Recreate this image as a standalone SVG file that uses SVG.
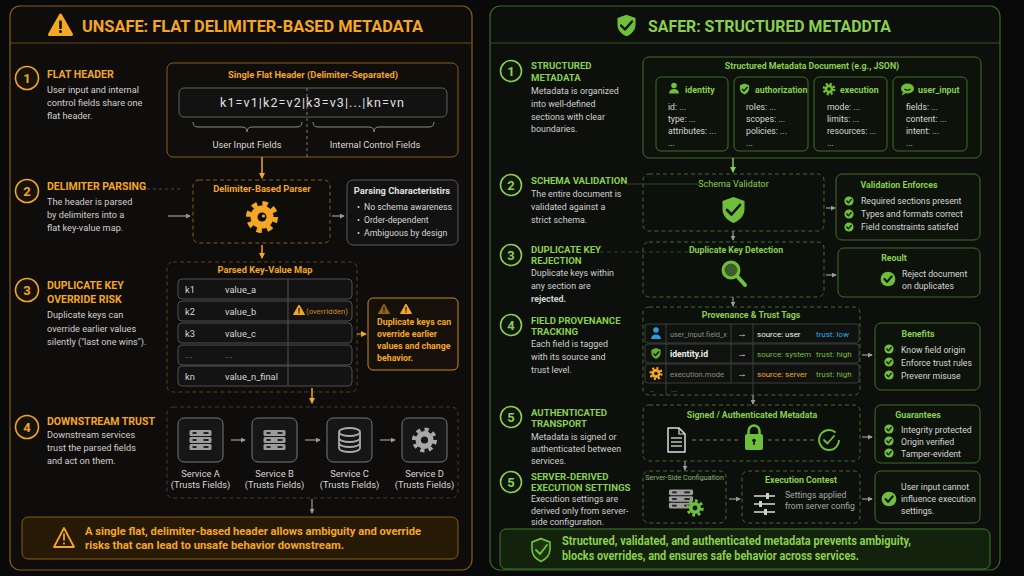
<svg xmlns="http://www.w3.org/2000/svg" width="1024" height="576" viewBox="0 0 1024 576">
<defs>
<style>
text{font-family:Roboto,"Liberation Sans",sans-serif}
.or{fill:#f5a623}
.gr{fill:#8acf4e}
.b{font-weight:700}
.st{font-size:10.5px;font-weight:700}
.str{font-size:9.6px;font-weight:700}
.ds{font-size:9.2px;fill:#cfcfcf}
.dsr{font-size:8.9px;fill:#cfcfcf}
.lbl{font-size:9.3px;fill:#d6d6d6}
.lbr{font-size:8.7px;fill:#d6d6d6}
.sm{font-size:9.3px;font-weight:700}
.smr{font-size:8.8px;font-weight:700}
.bx-or{fill:#100e0a;stroke:#8a5d16;stroke-width:1}
.dash-or{fill:#0f0d0a;stroke:#8a5d16;stroke-width:1;stroke-dasharray:4 3}
.bx-gy{fill:#121212;stroke:#5a5a5a;stroke-width:1}
.bx-gr{fill:#0d120b;stroke:#3f6f29;stroke-width:1}
.dash-gr{fill:#0c100a;stroke:#3f6f29;stroke-width:1;stroke-dasharray:4 3}
.nor{fill:#17120a;stroke:#f5a623;stroke-width:1.6}
.ngr{fill:#0f160c;stroke:#8acf4e;stroke-width:1.6}
.num{font-size:13px;font-weight:700;text-anchor:middle}
.ar-or{stroke:#f5a623;stroke-width:1.5;fill:none;marker-end:url(#mo)}
.ar-gy{stroke:#9a9a9a;stroke-width:1.2;fill:none;marker-end:url(#mg)}
.ar-gr{stroke:#8acf4e;stroke-width:1.5;fill:none;marker-end:url(#mgr)}
.mid{text-anchor:middle}
.row{fill:#131313;stroke:#505050;stroke-width:1}
.prow{fill:#0f120e;stroke:#3a3f38;stroke-width:1}
</style>
<marker id="mo" viewBox="0 0 6 6" refX="5" refY="3" markerWidth="6" markerHeight="6" orient="auto" markerUnits="userSpaceOnUse"><path d="M0,0 L6,3 L0,6 z" fill="#f5a623"/></marker>
<marker id="mg" viewBox="0 0 6 6" refX="5" refY="3" markerWidth="5" markerHeight="5" orient="auto" markerUnits="userSpaceOnUse"><path d="M0,0 L6,3 L0,6 z" fill="#9a9a9a"/></marker>
<marker id="mgr" viewBox="0 0 6 6" refX="5" refY="3" markerWidth="6" markerHeight="6" orient="auto" markerUnits="userSpaceOnUse"><path d="M0,0 L6,3 L0,6 z" fill="#8acf4e"/></marker>
<path id="shield" d="M0,-13 L11,-9 L11,-1 C11,6 6,10.5 0,13 C-6,10.5 -11,6 -11,-1 L-11,-9 Z"/>
<g id="chk"><circle r="4.6" fill="#6fbf3a"/><path d="M-2.2,0 L-0.6,1.8 L2.3,-1.6" fill="none" stroke="#0c100a" stroke-width="1.3" stroke-linecap="round" stroke-linejoin="round"/></g>
<g id="srv">
<rect x="-11" y="-10" width="22" height="6" rx="1.5" fill="#9c9c9c"/>
<rect x="-11" y="-3" width="22" height="6" rx="1.5" fill="#9c9c9c"/>
<rect x="-11" y="4" width="22" height="6" rx="1.5" fill="#9c9c9c"/>
<g fill="#222"><rect x="-8" y="-8" width="4" height="2"/><rect x="-8" y="-1" width="4" height="2"/><rect x="-8" y="6" width="4" height="2"/><rect x="3" y="-8" width="5" height="2"/><rect x="3" y="-1" width="5" height="2"/><rect x="3" y="6" width="5" height="2"/></g>
</g>
<g id="warn"><path d="M0,-5 L5.5,4.5 L-5.5,4.5 Z" fill="#f5a623" stroke="#f5a623" stroke-width="1" stroke-linejoin="round"/><rect x="-0.6" y="-2" width="1.2" height="3.8" fill="#111"/><circle cy="3" r="0.7" fill="#111"/></g>
</defs>

<rect width="1024" height="576" fill="#090909"/>

<!-- LEFT PANEL -->
<g id="left-panel">
<rect x="10" y="6" width="462" height="564" rx="10" fill="#0e0d0b" stroke="#8a5d16" stroke-width="1.2"/>
<line x1="10" y1="43" x2="472" y2="43" stroke="#6e4a12" stroke-width="1"/>
<path d="M60.5,15 L71.5,34.5 L49.5,34.5 Z" fill="#f5a623" stroke="#f5a623" stroke-width="3" stroke-linejoin="round"/>
<rect x="59.2" y="20.5" width="2.6" height="8.5" rx="1" fill="#0e0d0b"/>
<circle cx="60.5" cy="31.5" r="1.5" fill="#0e0d0b"/>
<text x="82" y="32" class="or b" font-size="16.5" textLength="341" lengthAdjust="spacingAndGlyphs">UNSAFE: FLAT DELIMITER-BASED METADATA</text>
</g>

<g id="step1-left">
<circle cx="27" cy="78" r="11.5" class="nor"/>
<text x="27" y="82.5" class="num or">1</text>
<text x="47" y="78" class="st or">FLAT HEADER</text>
<text x="47" y="93" class="ds">User input and internal</text>
<text x="47" y="106" class="ds">control fields share one</text>
<text x="47" y="119" class="ds">flat header.</text>
</g>

<g id="flat-header">
<rect x="167" y="63" width="291" height="94" rx="6" class="bx-or"/>
<text x="313" y="78" class="sm or mid">Single Flat Header (Delimiter-Separated)</text>
<rect x="179" y="88" width="268" height="29" rx="5" fill="#121212" stroke="#5e5e5e"/>
<text x="220" y="107" font-size="12.5" fill="#e0e0e0" textLength="184" lengthAdjust="spacing">k1=v1|k2=v2|k3=v3|...|kn=vn</text>
<line x1="307" y1="88" x2="307" y2="157" stroke="#777" stroke-dasharray="3 3"/>
<path d="M193,122 Q193,127 198,127 L242,127 Q247,127 247,132 Q247,127 252,127 L297,127 Q302,127 302,122" fill="none" stroke="#8a8a8a"/>
<path d="M313,122 Q313,127 318,127 L369,127 Q374,127 374,132 Q374,127 379,127 L429,127 Q434,127 434,122" fill="none" stroke="#8a8a8a"/>
<text x="247" y="148" class="lbl mid" fill="#bdbdbd">User Input Fields</text>
<text x="375" y="148" class="lbl mid" fill="#bdbdbd">Internal Control Fields</text>
</g>

<g id="step2-left">
<circle cx="27" cy="191" r="11.5" class="nor"/>
<text x="27" y="195.5" class="num or">2</text>
<text x="47" y="190" class="st or">DELIMITER PARSING</text>
<text x="47" y="205" class="ds">The header is parsed</text>
<text x="47" y="218" class="ds">by delimiters into a</text>
<text x="47" y="231" class="ds">flat key-value map.</text>
</g>

<g id="parser">
<rect x="193" y="180" width="137" height="63" rx="6" class="dash-or"/>
<text x="262" y="192" class="sm or mid">Delimiter-Based Parser</text>
<circle cx="262" cy="217" r="13.5" fill="none" stroke="#f5a623" stroke-width="5" stroke-dasharray="5.3 5.3"/>
<circle cx="262" cy="217" r="11.5" fill="#f5a623"/>
<circle cx="262" cy="217" r="4.5" fill="#0f0d0a"/>
<circle cx="263.5" cy="216" r="1.6" fill="#f5a623"/>
</g>

<g id="parsing-chars">
<rect x="347" y="180" width="111" height="65" rx="6" class="bx-gy"/>
<text x="402" y="194" class="sm mid" fill="#e0e0e0">Parsing Characteristirs</text>
<text x="357" y="210" class="lbr">•</text><text x="364" y="210" class="lbr">No schema awareness</text>
<text x="357" y="223" class="lbr">•</text><text x="364" y="223" class="lbr">Order-dependent</text>
<text x="357" y="236" class="lbr">•</text><text x="364" y="236" class="lbr">Ambiguous by design</text>
</g>

<g id="step3-left">
<circle cx="27" cy="290" r="11.5" class="nor"/>
<text x="27" y="294.5" class="num or">3</text>
<text x="47" y="289" class="st or">DUPLICATE KEY</text>
<text x="47" y="303" class="st or">OVERRIDE RISK</text>
<text x="47" y="318" class="ds">Duplicate keys can</text>
<text x="47" y="332" class="ds">override earlier values</text>
<text x="47" y="345" class="ds">silently ("last one wins").</text>
</g>

<g id="kv-map">
<rect x="167" y="262" width="190" height="130" rx="6" fill="none" stroke="#5a4216" stroke-dasharray="4 3"/>
<text x="265" y="273" class="sm or mid">Parsed Key-Value Map</text>
<rect x="178" y="279" width="174" height="20" rx="4" class="row"/>
<rect x="178" y="301" width="174" height="20" rx="4" class="row"/>
<rect x="178" y="323" width="174" height="20" rx="4" class="row"/>
<rect x="178" y="345" width="174" height="20" rx="4" class="row"/>
<rect x="178" y="366" width="174" height="20" rx="4" class="row"/>
<line x1="288" y1="279" x2="288" y2="386" stroke="#505050"/>
<g class="lbl">
<text x="185" y="292.5">k1</text><text x="225" y="292.5">value_a</text>
<text x="185" y="314.5">k2</text><text x="225" y="314.5">value_b</text>
<text x="185" y="336.5">k3</text><text x="225" y="336.5">value_c</text>
<text x="185" y="358" fill="#888">...</text><text x="225" y="358" fill="#888">...</text>
<text x="185" y="379.5">kn</text><text x="225" y="379.5">value_n_final</text>
</g>
<use href="#warn" x="299" y="310"/>
<text x="306" y="313.5" font-size="7.8" fill="#c98a1e">(overridden)</text>
</g>

<g id="override-warning">
<rect x="368" y="298" width="90" height="72" rx="5" fill="#15110a" stroke="#c98a1e"/>
<use href="#warn" x="384" y="309" opacity="0.55"/>
<use href="#warn" x="406" y="309"/>
<g class="or b" font-size="8.8">
<text x="377" y="325">Duplicate keys can</text>
<text x="377" y="337">override earlier</text>
<text x="377" y="349">values and change</text>
<text x="377" y="361">behavior.</text>
</g>
</g>

<g id="step4-left">
<circle cx="27" cy="427" r="11.5" class="nor"/>
<text x="27" y="431.5" class="num or">4</text>
<text x="47" y="425" class="st or">DOWNSTREAM TRUST</text>
<text x="47" y="438" class="ds">Downstream services</text>
<text x="47" y="451" class="ds">trust the parsed fields</text>
<text x="47" y="464" class="ds">and act on them.</text>
</g>

<g id="services">
<rect x="167" y="407" width="291" height="91" rx="6" fill="none" stroke="#3c3c3c" stroke-dasharray="4 3"/>
<g id="service-a">
<rect x="178" y="418" width="45" height="44" rx="6" fill="#161616" stroke="#777"/>
<use href="#srv" x="200.5" y="440"/>
<text x="200.5" y="477" class="lbl mid">Service A</text>
<text x="200.5" y="488" class="lbl mid">(Trusts Fields)</text>
</g>
<g id="service-b">
<rect x="252" y="418" width="45" height="44" rx="6" fill="#161616" stroke="#777"/>
<use href="#srv" x="274.5" y="440"/>
<text x="274.5" y="477" class="lbl mid">Service B</text>
<text x="274.5" y="488" class="lbl mid">(Trusts Fields)</text>
</g>
<g id="service-c">
<rect x="327" y="418" width="45" height="44" rx="6" fill="#161616" stroke="#777"/>
<g fill="none" stroke="#a8a8a8" stroke-width="1.8">
<ellipse cx="349.5" cy="432" rx="10.5" ry="4"/>
<path d="M339,432 v16 a10.5,4 0 0 0 21,0 v-16"/>
<path d="M339,438 a10.5,4 0 0 0 21,0"/>
<path d="M339,443 a10.5,4 0 0 0 21,0"/>
</g>
<text x="349.5" y="477" class="lbl mid">Service C</text>
<text x="349.5" y="488" class="lbl mid">(Trusts Fields)</text>
</g>
<g id="service-d">
<rect x="402" y="418" width="45" height="44" rx="6" fill="#161616" stroke="#777"/>
<circle cx="424.5" cy="440" r="10.5" fill="none" stroke="#a8a8a8" stroke-width="4" stroke-dasharray="4.1 4.1"/>
<circle cx="424.5" cy="440" r="9" fill="#a8a8a8"/>
<circle cx="424.5" cy="440" r="3.6" fill="#161616"/>
<text x="424.5" y="477" class="lbl mid">Service D</text>
<text x="424.5" y="488" class="lbl mid">(Trusts Fields)</text>
</g>
</g>

<g id="left-summary">
<rect x="22" y="517" width="436" height="42" rx="6" fill="#261a06" stroke="#8a5d16"/>
<path d="M64,528 L74,547 L54,547 Z" fill="none" stroke="#f5a623" stroke-width="1.8" stroke-linejoin="round"/>
<rect x="63.1" y="533.5" width="1.8" height="7" fill="#f5a623"/>
<circle cx="64" cy="543.5" r="1.1" fill="#f5a623"/>
<text x="85" y="535" class="or b" font-size="11.5" textLength="336" lengthAdjust="spacingAndGlyphs">A single flat, delimiter-based header allows ambiguity and override</text>
<text x="85" y="549" class="or b" font-size="11.5" textLength="259" lengthAdjust="spacingAndGlyphs">risks that can lead to unsafe behavior downstream.</text>
</g>

<!-- RIGHT PANEL -->
<g id="right-panel">
<rect x="490" y="6" width="510" height="564" rx="10" fill="#0c0f0b" stroke="#3b6b24" stroke-width="1.2"/>
<line x1="490" y1="43" x2="1000" y2="43" stroke="#2f5520" stroke-width="1"/>
<use href="#shield" transform="translate(626.5,25.5) scale(0.82)" fill="#6fbf3a"/>
<path d="M621,25.5 L625,29.5 L632,21.5" fill="none" stroke="#0c0f0b" stroke-width="2.4" stroke-linecap="round" stroke-linejoin="round"/>
<text x="648" y="32" class="gr b" font-size="16.5" textLength="243" lengthAdjust="spacingAndGlyphs">SAFER: STRUCTURED METADDTA</text>
</g>

<g id="step1-right">
<circle cx="511" cy="71" r="10.5" class="ngr"/>
<text x="511" y="75.5" class="num gr">1</text>
<text x="531" y="69" class="str gr">STRUCTURED</text>
<text x="531" y="81" class="str gr">METADATA</text>
<text x="531" y="94" class="dsr">Metadata is organized</text>
<text x="531" y="107" class="dsr">into well-defined</text>
<text x="531" y="120" class="dsr">sections with clear</text>
<text x="531" y="132" class="dsr">boundaries.</text>
</g>

<g id="metadata-doc">
<rect x="643" y="57" width="338" height="101" rx="6" class="bx-gr"/>
<text x="812" y="69" class="smr gr mid">Structured Metadata Document (e.g., JSON)</text>
<g id="sec-identity">
<rect x="656" y="77" width="72" height="74" rx="5" class="bx-gr"/>
<circle cx="674" cy="85.5" r="2.8" fill="#6fbf3a"/>
<path d="M669,93.5 a5,4.5 0 0 1 10,0 z" fill="#6fbf3a"/>
<text x="685" y="93" class="smr gr">identity</text>
<g class="lbr"><text x="668" y="110">id: ...</text><text x="668" y="122">type: ...</text><text x="668" y="134">attributes: ...</text><text x="668" y="146">...</text></g>
</g>
<g id="sec-authorization">
<rect x="734" y="77" width="74" height="74" rx="5" class="bx-gr"/>
<use href="#shield" transform="translate(744.5,89) scale(0.42)" fill="#6fbf3a"/>
<path d="M742,89 L744,91 L747.5,87" fill="none" stroke="#0c0f0b" stroke-width="1.3"/>
<text x="755" y="93" class="smr gr">authorization</text>
<g class="lbr"><text x="746" y="110">roles: ...</text><text x="746" y="122">scopes: ...</text><text x="746" y="134">policies: ...</text><text x="746" y="146">...</text></g>
</g>
<g id="sec-execution">
<rect x="814" y="77" width="73" height="74" rx="5" class="bx-gr"/>
<circle cx="829" cy="89" r="5.2" fill="none" stroke="#6fbf3a" stroke-width="2.4" stroke-dasharray="2.1 2"/>
<circle cx="829" cy="89" r="4.4" fill="#6fbf3a"/>
<circle cx="829" cy="89" r="1.7" fill="#0d120b"/>
<text x="840" y="93" class="smr gr">execution</text>
<g class="lbr"><text x="827" y="110">mode: ...</text><text x="827" y="122">limits: ...</text><text x="827" y="134">resources: ...</text><text x="827" y="146">...</text></g>
</g>
<g id="sec-user-input">
<rect x="893" y="77" width="74" height="74" rx="5" class="bx-gr"/>
<ellipse cx="907.5" cy="88.5" rx="6.5" ry="5" fill="#6fbf3a"/>
<path d="M903,92 L901.5,95.5 L906,93" fill="#6fbf3a"/>
<path d="M904.5,89 Q907.5,91.5 910.5,89" fill="none" stroke="#0d120b" stroke-width="1.2"/>
<text x="918" y="93" class="smr gr">user_input</text>
<g class="lbr"><text x="906" y="110">fields: ...</text><text x="906" y="122">content: ...</text><text x="906" y="134">intent: ...</text><text x="906" y="146">...</text></g>
</g>
</g>

<g id="step2-right">
<circle cx="511" cy="185" r="10.5" class="ngr"/>
<text x="511" y="189.5" class="num gr">2</text>
<text x="531" y="184" class="str gr">SCHEMA VALIDATION</text>
<text x="531" y="197" class="dsr">The entire document is</text>
<text x="531" y="210" class="dsr">validated against a</text>
<text x="531" y="223" class="dsr">strict schema.</text>
</g>

<g id="schema-validator">
<rect x="643" y="174" width="181" height="57" rx="6" class="dash-gr"/>
<text x="733.5" y="187" font-size="9" class="gr mid">Schema Validator</text>
<use href="#shield" transform="translate(733.5,210)" fill="#6fbf3a"/>
<path d="M727,210 L731.5,214.5 L740,205" fill="none" stroke="#0c100a" stroke-width="2.6" stroke-linecap="round" stroke-linejoin="round"/>
</g>

<g id="validation-enforces">
<rect x="836" y="174" width="144" height="66" rx="6" class="bx-gr"/>
<text x="899" y="188" class="smr gr mid">Validation Enforces</text>
<use href="#chk" x="849" y="201"/><text x="861" y="204" class="lbr">Required sections present</text>
<use href="#chk" x="849" y="214"/><text x="861" y="217" class="lbr">Types and formats correct</text>
<use href="#chk" x="849" y="227"/><text x="861" y="230" class="lbr">Field constraints satisfed</text>
</g>

<g id="step3-right">
<circle cx="511" cy="255" r="10.5" class="ngr"/>
<text x="511" y="259.5" class="num gr">3</text>
<text x="531" y="253" class="str gr">DUPLICATE KEY</text>
<text x="531" y="264" class="str gr">REJECTION</text>
<text x="531" y="276" class="dsr">Duplicate keys within</text>
<text x="531" y="289" class="dsr">any section are</text>
<text x="531" y="302" class="dsr" fill="#f0f0f0" font-weight="700">rejected.</text>
</g>

<g id="dup-detection">
<rect x="643" y="242" width="181" height="55" rx="6" class="dash-gr"/>
<text x="736" y="253" class="smr gr mid">Duplicate Key Detection</text>
<circle cx="731" cy="270" r="8" fill="#3d5d2c" stroke="#6fbf3a" stroke-width="3"/>
<line x1="737" y1="276" x2="745" y2="285" stroke="#6fbf3a" stroke-width="4" stroke-linecap="round"/>
</g>

<g id="result-dup">
<rect x="838" y="248" width="142" height="49" rx="6" class="bx-gr"/>
<text x="894" y="261" class="smr gr mid">Reoult</text>
<use href="#chk" transform="translate(888,279) scale(1.6)"/>
<text x="902" y="277" class="lbr" fill="#c8c8c8">Reject document</text>
<text x="902" y="289" class="lbr" fill="#c8c8c8">on duplicates</text>
</g>

<g id="step4-right">
<circle cx="511" cy="325" r="10.5" class="ngr"/>
<text x="511" y="329.5" class="num gr">4</text>
<text x="531" y="324" class="str gr">FIELD PROVENANCE</text>
<text x="531" y="335" class="str gr">TRACKING</text>
<text x="531" y="347" class="dsr">Each field is tagged</text>
<text x="531" y="360" class="dsr">with its source and</text>
<text x="531" y="373" class="dsr">trust level.</text>
</g>

<g id="provenance">
<rect x="643" y="307" width="217" height="88" rx="6" class="dash-gr"/>
<text x="751" y="318" class="smr gr mid">Provenance &amp; Trust Tags</text>
<rect x="645" y="324" width="214" height="19" rx="3" class="prow"/>
<rect x="645" y="344" width="214" height="19" rx="3" class="prow"/>
<rect x="645" y="364" width="214" height="19" rx="3" class="prow"/>
<g stroke="#3a3f38"><line x1="666" y1="324" x2="666" y2="395"/><line x1="731" y1="324" x2="731" y2="383"/><line x1="753" y1="324" x2="753" y2="395"/></g>
<circle cx="656" cy="330" r="2.8" fill="#2e9be0"/>
<path d="M651,339 a5,4.5 0 0 1 10,0 z" fill="#2e9be0"/>
<use href="#shield" transform="translate(656,353.5) scale(0.42)" fill="#5fae35"/>
<path d="M653.5,353.5 L655.5,355.5 L659,351.5" fill="none" stroke="#0c0f0b" stroke-width="1.3"/>
<circle cx="656" cy="373.5" r="5.4" fill="none" stroke="#f5a623" stroke-width="2.4" stroke-dasharray="2.1 2.1"/>
<circle cx="656" cy="373.5" r="4.5" fill="#f5a623"/>
<circle cx="656" cy="373.5" r="1.8" fill="#0f120e"/>
<text x="670" y="337" font-size="7.6" fill="#8c8c8c" textLength="57" lengthAdjust="spacingAndGlyphs">user_input.field_x</text>
<text x="670" y="357" font-size="8.6" fill="#f0f0f0" font-weight="700">identity.id</text>
<text x="670" y="377" font-size="7.6" fill="#8c8c8c">execution.mode</text>
<g font-size="9.5" fill="#cfcfcf" text-anchor="middle"><text x="742" y="337">→</text><text x="742" y="357">→</text><text x="742" y="377">→</text></g>
<g font-size="8">
<text x="757" y="337" fill="#f0f0f0">source: user</text>
<text x="816" y="337" fill="#2ea8e6">trust: low</text>
<text x="757" y="357" fill="#6fbf3a">source: system</text>
<text x="816" y="357" fill="#6fbf3a">trust: high</text>
<text x="757" y="377" fill="#f5a623">source: server</text>
<text x="816" y="377" fill="#6fbf3a">trust: high</text>
</g>
<text x="650" y="392" font-size="8" fill="#777">..</text>
<text x="671" y="392" font-size="8" fill="#777">...</text>
</g>

<g id="benefits">
<rect x="875" y="323" width="105" height="67" rx="6" class="bx-gr"/>
<text x="918" y="337" class="smr gr mid">Benefits</text>
<use href="#chk" x="889" y="349"/><text x="901" y="353" class="lbr">Know field origin</text>
<use href="#chk" x="889" y="362"/><text x="901" y="366" class="lbr">Enforce trust rules</text>
<use href="#chk" x="889" y="375"/><text x="901" y="379" class="lbr">Prevenr misuse</text>
</g>

<g id="step5-right">
<circle cx="511" cy="417" r="10.5" class="ngr"/>
<text x="511" y="421.5" class="num gr">5</text>
<text x="531" y="416" class="str gr">AUTHENTICATED</text>
<text x="531" y="427" class="str gr">TRANSPORT</text>
<text x="531" y="440" class="dsr">Metadata is signed or</text>
<text x="531" y="452" class="dsr">authenticated between</text>
<text x="531" y="464" class="dsr">services.</text>
</g>

<g id="signed">
<rect x="643" y="405" width="217" height="56" rx="6" class="dash-gr"/>
<text x="752" y="418" class="smr gr mid">Signed / Authenticated Metadata</text>
<path d="M668,428 h11 l6,6 v18 h-17 z" fill="none" stroke="#dcdcdc" stroke-width="1.5" stroke-linejoin="round"/>
<path d="M679,428 v6 h6" fill="none" stroke="#dcdcdc" stroke-width="1.2"/>
<g stroke="#dcdcdc" stroke-width="1.3"><line x1="671" y1="438" x2="682" y2="438"/><line x1="671" y1="442" x2="682" y2="442"/><line x1="671" y1="446" x2="682" y2="446"/></g>
<line x1="692" y1="440" x2="740" y2="440" stroke="#777" stroke-dasharray="4 3"/>
<path d="M748.5,435 v-4 a5.5,5.5 0 0 1 11,0 v4" fill="none" stroke="#6fbf3a" stroke-width="2.5"/>
<rect x="745" y="434" width="18" height="16" rx="2" fill="#6fbf3a"/>
<circle cx="754" cy="440.5" r="1.8" fill="#0c100a"/>
<rect x="753.2" y="441" width="1.6" height="4" fill="#0c100a"/>
<line x1="768" y1="440" x2="815" y2="440" stroke="#777" stroke-dasharray="4 3"/>
<circle cx="829" cy="440" r="10" fill="none" stroke="#6fbf3a" stroke-width="1.8" stroke-dasharray="54 9"/>
<path d="M824,440 L827.5,443.5 L834,436" fill="none" stroke="#6fbf3a" stroke-width="1.8" stroke-linecap="round" stroke-linejoin="round"/>
</g>

<g id="guarantees">
<rect x="875" y="405" width="105" height="58" rx="6" class="bx-gr"/>
<text x="918" y="418" class="smr gr mid">Guarantees</text>
<use href="#chk" x="889" y="429"/><text x="901" y="433" class="lbr">Integrity protected</text>
<use href="#chk" x="889" y="441"/><text x="901" y="445" class="lbr">Origin verified</text>
<use href="#chk" x="889" y="453"/><text x="901" y="457" class="lbr">Tamper-evident</text>
</g>

<g id="step6-right">
<circle cx="511" cy="482" r="10.5" class="ngr"/>
<text x="511" y="486.5" class="num gr">5</text>
<text x="531" y="480" class="str gr">SERVER-DERIVED</text>
<text x="531" y="491" class="str gr">EXECUTION SETTINGS</text>
<text x="531" y="502" class="dsr">Execution settings are</text>
<text x="531" y="514" class="dsr">derived only from server-</text>
<text x="531" y="525" class="dsr">side configuration.</text>
</g>

<g id="server-config">
<rect x="643" y="471" width="83" height="52" rx="6" class="dash-gr"/>
<text x="684.5" y="480" font-size="7.2" fill="#8fb37a" class="mid">Server-Side Configuation</text>
<use href="#srv" transform="translate(681,499) scale(1.1,0.95)"/>
<circle cx="695" cy="508" r="7.2" fill="none" stroke="#6fbf3a" stroke-width="3" stroke-dasharray="2.8 2.8"/>
<circle cx="695" cy="508" r="6" fill="#6fbf3a"/>
<circle cx="695" cy="508" r="2.4" fill="#0c100a"/>
</g>

<g id="execution-context">
<rect x="742" y="471" width="118" height="52" rx="6" class="dash-gr"/>
<text x="801" y="483" class="smr gr mid">Execution Contest</text>
<g stroke="#cfcfcf" stroke-width="1.6"><line x1="754" y1="496" x2="775" y2="496"/><line x1="754" y1="504" x2="775" y2="504"/><line x1="754" y1="512" x2="775" y2="512"/></g>
<g fill="#cfcfcf"><rect x="766" y="493" width="3" height="6"/><rect x="759" y="501" width="3" height="6"/><rect x="764" y="509" width="3" height="6"/></g>
<text x="785" y="498" font-size="8.6" fill="#a8a8a8">Settings applied</text>
<text x="785" y="509" font-size="8.6" fill="#a8a8a8">from server config</text>
</g>

<g id="exec-result">
<rect x="875" y="471" width="105" height="52" rx="6" class="bx-gr"/>
<use href="#chk" transform="translate(889,499) scale(1.6)"/>
<text x="901" y="490" class="lbr" fill="#c8c8c8">User input cannot</text>
<text x="901" y="502" class="lbr" fill="#c8c8c8">influence execution</text>
<text x="901" y="514" class="lbr" fill="#c8c8c8">settings.</text>
</g>

<g id="right-summary">
<rect x="500" y="529" width="490" height="40" rx="6" fill="#13220c" stroke="#3f7a26"/>
<use href="#shield" transform="translate(541,550) scale(0.82,0.88)" fill="#1c3212" stroke="#6fbf3a" stroke-width="2"/>
<path d="M536,550 L540,554 L547,545" fill="none" stroke="#6fbf3a" stroke-width="2" stroke-linecap="round" stroke-linejoin="round"/>
<text x="562" y="545" class="gr b" font-size="12" textLength="349" lengthAdjust="spacingAndGlyphs">Structured, validated, and authenticated metadata prevents ambiguity,</text>
<text x="562" y="560" class="gr b" font-size="12" textLength="297" lengthAdjust="spacingAndGlyphs">blocks overrides, and ensures safe behavior across services.</text>
</g>

<g id="connectors">
<path d="M262,157 V178" class="ar-or"/>
<path d="M147,189 H183" stroke="#4a4a4a" stroke-dasharray="3 3" fill="none"/>
<path d="M168,216 H190" class="ar-gy"/>
<path d="M332,216 H344" class="ar-gy"/>
<path d="M262,245 V258" class="ar-or"/>
<path d="M357,334 H366" stroke="#c98a1e" stroke-width="1.2" fill="none" marker-end="url(#mo)"/>
<path d="M312,388 V403" class="ar-or"/>
<path d="M231,440 H245" class="ar-gy"/>
<path d="M305,440 H320" class="ar-gy"/>
<path d="M380,440 H395" class="ar-gy"/>
<path d="M312,499 V513" class="ar-gy"/>
<path d="M733,158 V172" class="ar-gr"/>
<path d="M626,184 H700" stroke="#2c4a20" fill="none"/>
<path d="M826,208 H835" class="ar-gy"/>
<path d="M733,231 V240" class="ar-gy"/>
<path d="M600,252 H690" stroke="#2c4a20" stroke-dasharray="4 3" fill="none"/>
<path d="M826,275 H836" class="ar-gy"/>
<path d="M733,297 V306" class="ar-gy"/>
<path d="M862,355 H872" class="ar-gy"/>
<path d="M753,395 V404" class="ar-gy"/>
<path d="M862,437 H872" class="ar-gy"/>
<path d="M685,461 V470" class="ar-gy"/>
<path d="M729,499 H740" class="ar-gy"/>
<path d="M862,499 H872" class="ar-gy"/>
</g>
</svg>
